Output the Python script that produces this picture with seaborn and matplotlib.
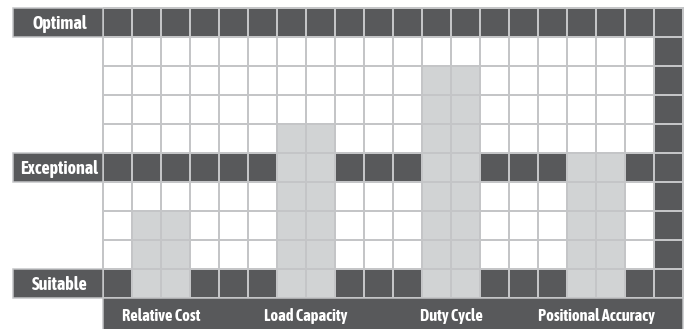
import numpy as np
import pandas as pd
import seaborn as sns
import matplotlib
matplotlib.use("Agg")
import matplotlib.pyplot as plt
from matplotlib.patches import Rectangle

# ---- data ----
categories = ["Relative Cost", "Load Capacity", "Duty Cycle", "Positional Accuracy"]
ratings = [3, 6, 8, 5]            # bar height in grid rows (from bottom)
bar_cols = [1, 6, 11, 16]         # first grid column of each 2-column bar
levels = ["Suitable", "Exceptional", "Optimal"]
level_rows = [0, 4, 9]            # grid row (from bottom) of each level band

n_rows, n_cols = 10, 20
DARK = "#58595b"
BAR = "#d1d3d4"
LINE = "#c4c5c7"

grid = np.zeros((n_rows, n_cols), dtype=int)
for r in level_rows:
    grid[r, :] = 1
grid[:, n_cols - 1] = 1
for c, h in zip(bar_cols, ratings):
    grid[:h, c:c + 2] = 2
df = pd.DataFrame(grid[::-1])

sns.set_theme(style="white")
plt.rcParams["font.family"] = ["Asap Condensed", "DejaVu Sans"]

fig = plt.figure(figsize=(6.85, 3.29), dpi=100)
ax = fig.add_axes([0, 0, 1, 1])
cmap = matplotlib.colors.ListedColormap(["#ffffff", DARK, BAR])
sns.heatmap(df, ax=ax, cmap=cmap, vmin=-0.5, vmax=2.5, cbar=False,
            linewidths=1.1, linecolor=LINE, xticklabels=False, yticklabels=False)

cell = 29.0
left_px, top_px = 103.0, 8.0
ax.set_xlim(-left_px / cell, (685 - left_px) / cell)
ax.set_ylim((329 - top_px) / cell, -top_px / cell)
ax.axis("off")

fkw = dict(color="white", fontweight="bold", ha="center", va="center", zorder=4)

box_left = (13 - left_px) / cell
for name, r in zip(levels, level_rows):
    y0 = n_rows - 1 - r
    ax.add_patch(Rectangle((box_left, y0), -box_left, 1, facecolor=DARK,
                           edgecolor=LINE, lw=1.1, zorder=3, clip_on=False))
    ax.text(box_left / 2 + 0.05, y0 + 0.55, name, fontsize=13, **fkw)

ax.add_patch(Rectangle((0, n_rows), n_cols, 2, facecolor=DARK,
                       edgecolor=LINE, lw=1.1, zorder=3))
for name, c in zip(categories, bar_cols):
    ax.text(c + 1, n_rows + 0.63, name, fontsize=11.8, **fkw)

fig.savefig("out.png", dpi=100, facecolor="white")
